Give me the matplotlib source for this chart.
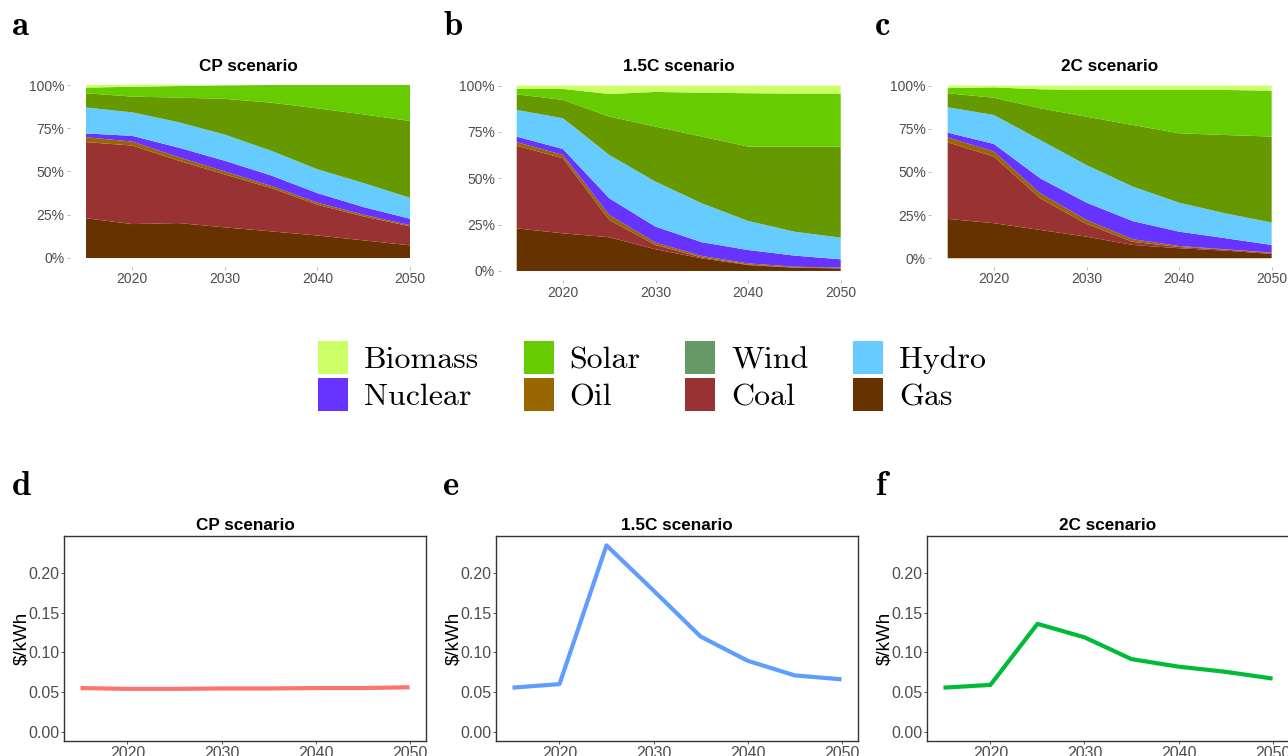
#!/usr/bin/env python3
# -*- coding: utf-8 -*-

import numpy as np
from matplotlib import pyplot as plt
from matplotlib.patches import Patch
from matplotlib.ticker import FuncFormatter

years = [2015, 2020, 2025, 2030, 2035, 2040, 2045, 2050]

sources = ['Gas', 'Coal', 'Oil', 'Nuclear', 'Hydro', 'Wind', 'Solar', 'Biomass']
area_colors = ['#663300', '#993333', '#996600', '#6633FF', '#66CCFF', '#669900', '#66CC00', '#CCFF66']
legend_colors = ['#663300', '#993333', '#996600', '#6633FF', '#66CCFF', '#669966', '#66CC00', '#CCFF66']

# generation shares (%) per source, bottom to top of the stack
cp_gas = [23.0, 19.6, 20.2, 17.7, 15.4, 13.0, 10.2, 7.3]
cp_coal = [44.0, 45.4, 36.1, 30.6, 25.0, 17.8, 13.8, 11.0]
cp_oil = [2.8, 2.3, 2.0, 1.7, 1.3, 1.2, 1.0, 0.7]
cp_nuclear = [2.2, 3.3, 5.5, 6.2, 6.0, 5.5, 4.4, 3.7]
cp_hydro = [15.0, 13.6, 14.7, 15.1, 14.3, 13.8, 13.9, 12.1]
cp_wind = [8.2, 9.1, 14.2, 20.7, 27.8, 35.2, 39.7, 44.4]
cp_solar = [3.3, 5.7, 6.7, 7.8, 10.2, 13.5, 17.0, 20.8]
cp_biomass = [1.5, 1.0, 0.6, 0.2, 0.0, 0.0, 0.0, 0.0]

c15_gas = [23.0, 20.3, 18.2, 11.7, 6.8, 3.2, 1.8, 1.4]
c15_coal = [44.6, 40.5, 9.3, 2.3, 0.5, 0.3, 0.1, 0.1]
c15_oil = [1.9, 1.8, 2.7, 1.3, 0.8, 0.6, 0.4, 0.3]
c15_nuclear = [3.0, 3.2, 9.0, 8.6, 7.4, 7.2, 6.0, 4.5]
c15_hydro = [14.4, 16.6, 23.4, 24.3, 21.0, 15.7, 12.9, 11.7]
c15_wind = [8.4, 9.9, 20.7, 29.7, 36.0, 40.1, 45.9, 49.1]
c15_solar = [2.9, 5.9, 12.2, 18.7, 23.7, 28.8, 28.6, 28.6]
c15_biomass = [1.8, 1.8, 4.5, 3.4, 3.8, 4.1, 4.3, 4.3]

c2_gas = [22.8, 20.3, 16.4, 12.5, 7.7, 5.8, 4.4, 2.5]
c2_coal = [44.4, 38.6, 18.3, 7.4, 1.8, 0.7, 0.6, 0.5]
c2_oil = [2.8, 2.9, 2.9, 2.3, 1.5, 0.6, 0.2, 0.3]
c2_nuclear = [2.8, 4.4, 8.7, 10.0, 10.5, 8.3, 6.4, 4.4]
c2_hydro = [14.7, 16.8, 22.2, 21.8, 20.0, 16.8, 14.4, 13.0]
c2_wind = [8.1, 10.0, 18.4, 28.0, 35.7, 40.2, 45.4, 49.8]
c2_solar = [3.0, 6.0, 11.0, 15.5, 20.3, 25.1, 26.1, 26.6]
c2_biomass = [1.4, 1.0, 2.1, 2.5, 2.5, 2.5, 2.5, 2.9]

# electricity cost ($/kWh)
cp_cost = [0.055, 0.054, 0.054, 0.0545, 0.0545, 0.055, 0.055, 0.056]
c15_cost = [0.0555, 0.060, 0.235, 0.178, 0.120, 0.0895, 0.071, 0.066]
c2_cost = [0.0555, 0.059, 0.136, 0.119, 0.0915, 0.082, 0.0755, 0.067]

titles = ['CP scenario', '1.5C scenario', '2C scenario']
line_colors = ['#F8766D', '#619CFF', '#00BA38']

mix = [
	[cp_gas, cp_coal, cp_oil, cp_nuclear, cp_hydro, cp_wind, cp_solar, cp_biomass],
	[c15_gas, c15_coal, c15_oil, c15_nuclear, c15_hydro, c15_wind, c15_solar, c15_biomass],
	[c2_gas, c2_coal, c2_oil, c2_nuclear, c2_hydro, c2_wind, c2_solar, c2_biomass],
]
costs = [cp_cost, c15_cost, c2_cost]

sans = 'Liberation Sans'
grey = '#4D4D4D'

fig = plt.figure(figsize=(12.88, 7.56), dpi=100)

# top row: stacked generation mix
top_pos = [[0.0542, 0.6473, 0.2767, 0.2517],
		   [0.3886, 0.6293, 0.2767, 0.2697],
		   [0.7232, 0.6470, 0.2767, 0.2511]]
for i in range(3):
	ax = fig.add_axes(top_pos[i])
	layers = [np.array(v) / 100.0 for v in mix[i]]
	ax.stackplot(years, layers, colors=area_colors, linewidth=0)
	ax.set_xlim(2013.25, 2051.75)
	ax.set_ylim(-0.05, 1.05)
	ax.set_xticks([2020, 2030, 2040, 2050])
	ax.set_yticks([0, 0.25, 0.5, 0.75, 1.0])
	ax.yaxis.set_major_formatter(FuncFormatter(lambda v, p: '%d%%' % round(v * 100)))
	for s in ax.spines.values():
		s.set_visible(False)
	ax.tick_params(axis='both', length=2, width=0.6, color='#B0B0B0', labelsize=10,
		labelcolor=grey, pad=2)
	for lab in ax.get_xticklabels() + ax.get_yticklabels():
		lab.set_family(sans)
	ax.set_title(titles[i], fontsize=12.3, fontweight='bold', family=sans, pad=4)

# bottom row: electricity cost
bot_pos = [[0.0497, 0.0198, 0.2811, 0.2712],
		   [0.3851, 0.0198, 0.2811, 0.2712],
		   [0.7197, 0.0198, 0.2811, 0.2712]]
for i in range(3):
	ax = fig.add_axes(bot_pos[i])
	ax.plot(years, costs[i], color=line_colors[i], linewidth=3.0, solid_capstyle='butt')
	ax.set_xlim(2013.25, 2051.75)
	ax.set_ylim(-0.0118, 0.2468)
	ax.set_xticks([2020, 2030, 2040, 2050])
	ax.set_yticks([0, 0.05, 0.10, 0.15, 0.20])
	ax.yaxis.set_major_formatter(FuncFormatter(lambda v, p: '%.2f' % v))
	for s in ax.spines.values():
		s.set_linewidth(1.0)
		s.set_color('#333333')
	ax.tick_params(axis='both', length=2.5, width=0.6, color='#333333', labelsize=11.5,
		labelcolor=grey, pad=1)
	for lab in ax.get_xticklabels() + ax.get_yticklabels():
		lab.set_family(sans)
	ax.set_ylabel('$/kWh', fontsize=13.5, family=sans)
	ax.yaxis.set_label_coords(-0.093, 0.5)
	ax.set_title(titles[i], fontsize=12.3, fontweight='bold', family=sans, pad=4)

# panel letters
letters = ['a', 'b', 'c', 'd', 'e', 'f']
lx = [12, 443, 875, 12, 443, 875]
ly = [35, 35, 35, 495, 495, 495]
for k in range(6):
	fig.text(lx[k] / 1288.0, 1 - ly[k] / 756.0, letters[k], fontsize=25,
		family='cmb10', va='baseline', ha='left')

# shared legend, row-wise order Biomass Solar Wind Hydro / Nuclear Oil Coal Gas
order = ['Biomass', 'Nuclear', 'Solar', 'Oil', 'Wind', 'Coal', 'Hydro', 'Gas']
handles = [Patch(facecolor=legend_colors[sources.index(n)], edgecolor='none') for n in order]
fig.legend(handles, order, loc='center', bbox_to_anchor=(652 / 1288.0, 1 - 376 / 756.0),
	ncol=4, frameon=False, prop={'family': 'cmr10', 'size': 23},
	handlelength=0.94, handleheight=1.2, handletextpad=0.5,
	columnspacing=1.4, labelspacing=0.12, borderpad=0)

fig.savefig('out.png', dpi=100)
